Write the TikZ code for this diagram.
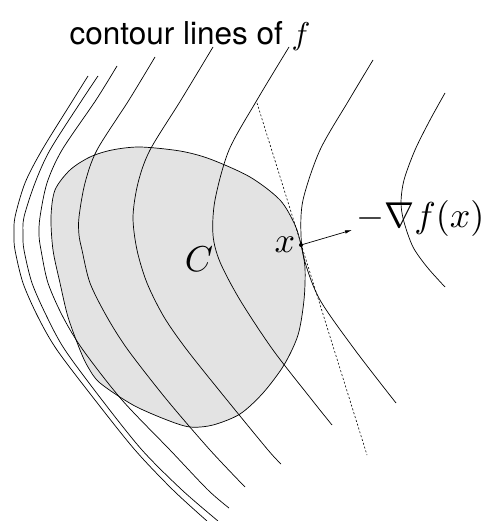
\documentclass[tikz,border=0pt]{standalone}
\usepackage{fontspec}
\setmainfont{TeX Gyre Heros}
\usetikzlibrary{arrows.meta}

\begin{document}
\begin{tikzpicture}[x=1pt,y=-1pt,line width=0.7pt,
    bigmath/.style={inner sep=0pt,scale=3.6}]
    \useasboundingbox (0,0) rectangle (483,521);

    % the set C
    \filldraw[fill=black!11] plot[smooth cycle] coordinates {
        (301,245) (305,268) (304,300) (298,335) (284,365) (263,393)
        (240,414) (213,425) (190,427) (167,420) (133,405) (100,383)
        (88,367) (80,350) (68,317) (60,283) (53,250) (51,217) (55,190)
        (70,170) (90,157) (112,150) (140,147) (180,151)
        (210,159) (250,177) (280,200) (295,225)};

    % contour lines of f
    \draw plot[smooth] coordinates {(88,76) (73,100) (42,150) (25,183) (15,217) (14,235) (15,250) (23,283) (38,317) (57,350) (95,400) (135,450) (173,490) (207,521)};
    \draw plot[smooth] coordinates {(98,76) (82,100) (50,150) (35,183) (24,217) (23,235) (24,250) (32,283) (47,317) (65,350) (102,400) (142,450) (182,490) (218,521)};
    \draw plot[smooth] coordinates {(117,66) (96,100) (62,150) (47,183) (40,217) (39,235) (41,250) (48,283) (63,317) (83,350) (122,400) (170,450) (208,490) (229,508)};
    \draw plot[smooth] coordinates {(155,57) (129,100) (97,150) (85,183) (79,217) (79,235) (82,250) (90,283) (107,317) (128,350) (167,400) (210,450) (245,487)};
    \draw plot[smooth] coordinates {(213,47) (181,100) (150,150) (138,183) (133,217) (137,250) (147,283) (164,317) (187,350) (227,400) (268,450) (281,464)};
    \draw plot[smooth] coordinates {(289,47) (257,100) (229,150) (215,200) (213,235) (220,262) (240,300) (273,350) (312,400) (332,425)};
    \draw plot[smooth] coordinates {(373,60) (349,100) (320,150) (303,200) (301,235) (305,262) (320,300) (355,350) (396,403)};
    \draw plot[smooth] coordinates {(445,93) (430,120) (415,150) (404,180) (401,203) (404,222) (413,247) (427,267) (445,287)};

    % point x, supporting line and gradient
    \coordinate (x) at (301,245);
    \coordinate (s1) at (257,103);
    \coordinate (s2) at (367,455);
    \coordinate (g) at (352,230);
    \draw[dashed,line width=0.6pt,dash pattern=on 2pt off 2pt] (s1) -- (s2);
    \draw[-{Latex[length=7pt,width=3.5pt]}] (x) -- (g);
    \fill (x) circle (2pt);

    \node[anchor=base,scale=3.15] (title) at (190,45) {contour lines of $f$};
    \node[bigmath,anchor=base] (xl) at (285,252) {$x$};
    \node[bigmath,anchor=base] (cl) at (199,271) {$C$};
    \node[bigmath,anchor=base west] (gl) at (355,227) {$-\nabla f(x)$};
\end{tikzpicture}
\end{document}
